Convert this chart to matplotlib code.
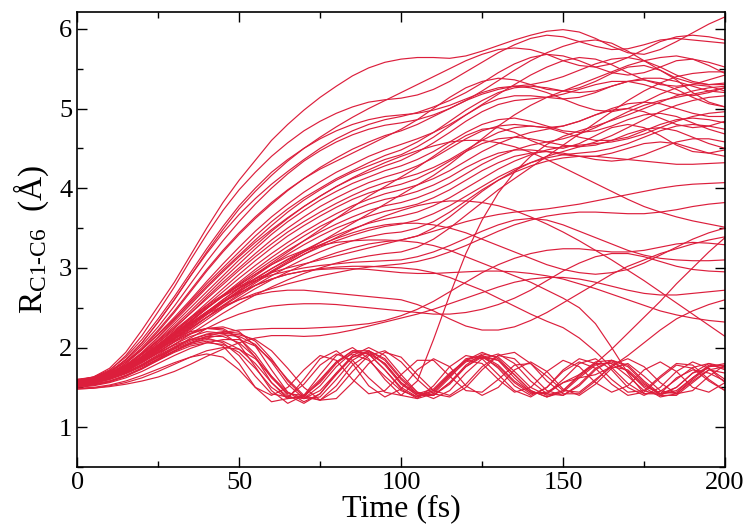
import matplotlib.pyplot as plt
from matplotlib.ticker import MultipleLocator

# time axis (fs), one sample every 5 fs
times = list(range(0, 201, 5))

# trajectories that break the bond (C1-C6 distance keeps growing)
rising = [
    [1.58, 1.63, 1.74, 1.94, 2.22, 2.52, 2.82, 3.16, 3.5, 3.82, 4.1,
     4.35, 4.6, 4.8, 4.98, 5.14, 5.28, 5.41, 5.51, 5.58, 5.62,
     5.64, 5.64, 5.63, 5.66, 5.72, 5.79, 5.86, 5.92, 5.97, 5.99, 5.96, 5.88, 5.78, 5.7, 5.68, 5.74, 5.84, 5.95, 6.06, 6.15],
    [1.57, 1.61, 1.71, 1.9, 2.15, 2.45, 2.76, 3.1, 3.42, 3.72, 3.98,
     4.2, 4.4, 4.57, 4.72, 4.84, 4.94, 5.02, 5.08, 5.11, 5.13,
     5.17, 5.24, 5.34, 5.46, 5.58, 5.7, 5.8, 5.88, 5.92, 5.9, 5.84, 5.78, 5.74, 5.75, 5.8, 5.86, 5.88, 5.86, 5.84, 5.82],
    [1.55, 1.6, 1.69, 1.85, 2.06, 2.32, 2.6, 2.9, 3.18, 3.44, 3.67,
     3.87, 4.05, 4.21, 4.36, 4.5, 4.62, 4.72, 4.8, 4.86, 4.9,
     4.95, 5.02, 5.1, 5.2, 5.32, 5.45, 5.56, 5.64, 5.68, 5.66, 5.6, 5.52, 5.45, 5.42, 5.45, 5.52, 5.6, 5.62, 5.58, 5.52],
    [1.59, 1.62, 1.7, 1.84, 2.03, 2.26, 2.52, 2.8, 3.08, 3.34, 3.58,
     3.8, 4.0, 4.18, 4.34, 4.47, 4.58, 4.67, 4.74, 4.79, 4.82,
     4.86, 4.92, 5.0, 5.1, 5.22, 5.35, 5.48, 5.6, 5.7, 5.78, 5.84, 5.86, 5.82, 5.72, 5.6, 5.48, 5.38, 5.32, 5.3, 5.32],
    [1.54, 1.58, 1.66, 1.8, 1.98, 2.2, 2.44, 2.7, 2.96, 3.2, 3.42,
     3.62, 3.8, 3.97, 4.12, 4.26, 4.38, 4.49, 4.58, 4.66, 4.72,
     4.8, 4.9, 5.0, 5.1, 5.18, 5.24, 5.28, 5.3, 5.34, 5.4, 5.48, 5.56, 5.62, 5.64, 5.6, 5.52, 5.42, 5.34, 5.3, 5.3],
    [1.56, 1.6, 1.67, 1.8, 1.97, 2.17, 2.38, 2.6, 2.83, 3.05, 3.26,
     3.46, 3.64, 3.8, 3.95, 4.08, 4.2, 4.3, 4.4, 4.48, 4.55,
     4.62, 4.7, 4.8, 4.92, 5.05, 5.18, 5.3, 5.42, 5.52, 5.6, 5.64, 5.62, 5.55, 5.45, 5.36, 5.3, 5.28, 5.3, 5.36, 5.42],
    [1.52, 1.56, 1.63, 1.76, 1.93, 2.13, 2.35, 2.58, 2.8, 3.0, 3.2,
     3.4, 3.58, 3.74, 3.88, 4.0, 4.12, 4.22, 4.32, 4.41, 4.48,
     4.58, 4.7, 4.84, 4.98, 5.1, 5.2, 5.26, 5.28, 5.26, 5.22, 5.2, 5.22, 5.28, 5.34, 5.38, 5.38, 5.34, 5.28, 5.22, 5.2],
    [1.6, 1.63, 1.7, 1.82, 1.98, 2.16, 2.36, 2.56, 2.77, 2.97, 3.16,
     3.35, 3.53, 3.7, 3.85, 3.98, 4.1, 4.2, 4.28, 4.36, 4.42,
     4.52, 4.64, 4.78, 4.92, 5.04, 5.12, 5.16, 5.16, 5.14, 5.12, 5.14, 5.2, 5.28, 5.34, 5.36, 5.32, 5.24, 5.14, 5.06, 5.02],
    [1.55, 1.58, 1.64, 1.76, 1.92, 2.1, 2.3, 2.5, 2.7, 2.9, 3.1,
     3.28, 3.46, 3.62, 3.77, 3.9, 4.02, 4.12, 4.2, 4.28, 4.35,
     4.45, 4.57, 4.7, 4.84, 4.96, 5.05, 5.1, 5.12, 5.14, 5.18, 5.24, 5.3, 5.34, 5.34, 5.3, 5.24, 5.18, 5.16, 5.2, 5.26],
    [1.57, 1.6, 1.66, 1.77, 1.92, 2.09, 2.27, 2.46, 2.66, 2.86, 3.05,
     3.24, 3.42, 3.58, 3.72, 3.85, 3.96, 4.06, 4.14, 4.22, 4.28,
     4.36, 4.46, 4.58, 4.7, 4.8, 4.86, 4.88, 4.84, 4.78, 4.72, 4.7, 4.72, 4.78, 4.86, 4.92, 4.94, 4.9, 4.82, 4.74, 4.68],
    [1.53, 1.57, 1.63, 1.74, 1.89, 2.06, 2.24, 2.43, 2.63, 2.82, 3.0,
     3.18, 3.35, 3.5, 3.64, 3.77, 3.88, 3.98, 4.07, 4.14, 4.2,
     4.28, 4.38, 4.5, 4.62, 4.72, 4.78, 4.8, 4.78, 4.76, 4.78, 4.84, 4.92, 4.98, 5.0, 4.96, 4.88, 4.8, 4.76, 4.78, 4.84],
    [1.58, 1.61, 1.67, 1.78, 1.92, 2.08, 2.25, 2.43, 2.61, 2.79, 2.97,
     3.14, 3.3, 3.45, 3.58, 3.7, 3.81, 3.91, 4.0, 4.07, 4.12,
     4.18, 4.26, 4.36, 4.48, 4.6, 4.7, 4.76, 4.78, 4.76, 4.7, 4.64, 4.6, 4.6, 4.64, 4.72, 4.8, 4.86, 4.88, 4.86, 4.82],
    [1.51, 1.55, 1.62, 1.73, 1.87, 2.03, 2.2, 2.38, 2.56, 2.74, 2.92,
     3.09, 3.25, 3.4, 3.53, 3.65, 3.76, 3.86, 3.94, 4.0, 4.05,
     4.12, 4.22, 4.34, 4.46, 4.56, 4.62, 4.64, 4.62, 4.58, 4.54, 4.52, 4.54, 4.6, 4.68, 4.74, 4.76, 4.72, 4.64, 4.56, 4.5],
    [1.56, 1.59, 1.65, 1.75, 1.88, 2.03, 2.19, 2.36, 2.53, 2.7, 2.87,
     3.03, 3.18, 3.32, 3.45, 3.57, 3.68, 3.78, 3.86, 3.93, 3.98,
     4.04, 4.12, 4.22, 4.34, 4.46, 4.56, 4.64, 4.7, 4.74, 4.78, 4.84, 4.92, 5.0, 5.06, 5.08, 5.06, 5.0, 4.94, 4.9, 4.9],
    [1.54, 1.58, 1.64, 1.74, 1.86, 2.0, 2.16, 2.32, 2.49, 2.66, 2.82,
     2.98, 3.13, 3.27, 3.4, 3.52, 3.62, 3.72, 3.8, 3.86, 3.9,
     3.96, 4.04, 4.14, 4.26, 4.36, 4.44, 4.48, 4.48, 4.46, 4.42, 4.4, 4.4, 4.44, 4.5, 4.56, 4.58, 4.56, 4.5, 4.44, 4.4],
    [1.6, 1.62, 1.67, 1.76, 1.88, 2.02, 2.17, 2.33, 2.49, 2.65, 2.8,
     2.95, 3.09, 3.22, 3.34, 3.45, 3.55, 3.64, 3.72, 3.78, 3.82,
     3.88, 3.96, 4.06, 4.18, 4.3, 4.4, 4.48, 4.54, 4.58, 4.62, 4.68, 4.76, 4.86, 4.96, 5.04, 5.1, 5.14, 5.18, 5.22, 5.26],
    [1.55, 1.58, 1.63, 1.72, 1.84, 1.98, 2.13, 2.28, 2.44, 2.6, 2.75,
     2.9, 3.04, 3.17, 3.29, 3.4, 3.5, 3.58, 3.65, 3.71, 3.75,
     3.8, 3.88, 3.98, 4.1, 4.22, 4.32, 4.4, 4.44, 4.46, 4.44, 4.4, 4.36, 4.34, 4.36, 4.42, 4.5, 4.58, 4.62, 4.62, 4.58],
    [1.57, 1.6, 1.65, 1.74, 1.85, 1.98, 2.12, 2.27, 2.42, 2.57, 2.72,
     2.86, 2.99, 3.11, 3.22, 3.32, 3.41, 3.49, 3.56, 3.61, 3.65,
     3.7, 3.78, 3.88, 4.0, 4.12, 4.24, 4.34, 4.42, 4.48, 4.52, 4.54, 4.56, 4.58, 4.62, 4.68, 4.76, 4.84, 4.9, 4.94, 4.96],
    [1.52, 1.56, 1.61, 1.7, 1.81, 1.94, 2.08, 2.23, 2.38, 2.53, 2.67,
     2.81, 2.94, 3.06, 3.17, 3.26, 3.34, 3.41, 3.47, 3.52, 3.55,
     3.6, 3.68, 3.78, 3.9, 4.02, 4.14, 4.24, 4.32, 4.38, 4.42, 4.44, 4.46, 4.5, 4.56, 4.64, 4.72, 4.78, 4.8, 4.78, 4.74],
    [1.58, 1.61, 1.66, 1.74, 1.85, 1.97, 2.1, 2.24, 2.38, 2.52, 2.65,
     2.78, 2.9, 3.01, 3.11, 3.2, 3.28, 3.34, 3.39, 3.43, 3.45,
     3.5, 3.58, 3.7, 3.84, 3.98, 4.1, 4.2, 4.28, 4.34, 4.38, 4.4, 4.4, 4.38, 4.36, 4.34, 4.32, 4.3, 4.3, 4.31, 4.32],
    [1.55, 1.58, 1.63, 1.71, 1.82, 1.94, 2.07, 2.21, 2.35, 2.49, 2.62,
     2.74, 2.85, 2.95, 3.04, 3.12, 3.19, 3.25, 3.3, 3.33, 3.35,
     3.4, 3.5, 3.64, 3.8, 3.96, 4.1, 4.22, 4.32, 4.4, 4.46, 4.52, 4.58, 4.66, 4.76, 4.86, 4.96, 5.04, 5.1, 5.14, 5.16],
    [1.53, 1.56, 1.61, 1.69, 1.79, 1.91, 2.04, 2.17, 2.3, 2.43, 2.55,
     2.66, 2.76, 2.85, 2.93, 3.0, 3.06, 3.11, 3.15, 3.18, 3.2,
     3.26, 3.36, 3.5, 3.66, 3.82, 3.98, 4.12, 4.26, 4.4, 4.54, 4.68, 4.82, 4.96, 5.1, 5.22, 5.32, 5.4, 5.44, 5.46, 5.46],
    [1.54, 1.57, 1.63, 1.73, 1.86, 2.01, 2.17, 2.33, 2.49, 2.64, 2.78,
     2.92, 3.06, 3.2, 3.34, 3.48, 3.62, 3.76, 3.9, 4.02, 4.14,
     4.26, 4.4, 4.54, 4.66, 4.74, 4.76, 4.7, 4.6, 4.52, 4.5, 4.56, 4.66, 4.76, 4.8, 4.76, 4.66, 4.54, 4.46, 4.44, 4.48],
    [1.56, 1.6, 1.68, 1.82, 2.0, 2.22, 2.46, 2.72, 2.98, 3.22, 3.44,
     3.64, 3.82, 3.98, 4.12, 4.24, 4.34, 4.44, 4.54, 4.64, 4.74,
     4.86, 5.0, 5.14, 5.26, 5.34, 5.38, 5.36, 5.3, 5.24, 5.22, 5.26, 5.34, 5.44, 5.52, 5.54, 5.48, 5.36, 5.2, 5.08, 5.02],
    [1.53, 1.56, 1.61, 1.7, 1.82, 1.96, 2.11, 2.26, 2.41, 2.56, 2.7,
     2.83, 2.96, 3.08, 3.2, 3.32, 3.44, 3.56, 3.68, 3.8, 3.92,
     4.04, 4.16, 4.3, 4.46, 4.62, 4.78, 4.92, 5.04, 5.14, 5.22, 5.3, 5.38, 5.46, 5.54, 5.6, 5.64, 5.66, 5.62, 5.54, 5.44],
    [1.55, 1.59, 1.66, 1.78, 1.94, 2.13, 2.33, 2.54, 2.75, 2.95, 3.14,
     3.32, 3.48, 3.63, 3.77, 3.9, 4.02, 4.13, 4.23, 4.32, 4.4,
     4.47, 4.53, 4.58, 4.6, 4.6, 4.57, 4.52, 4.45, 4.36, 4.26, 4.16, 4.06, 3.96, 3.86, 3.77, 3.7, 3.64, 3.59, 3.55, 3.51],
    [1.59, 1.63, 1.72, 1.88, 2.1, 2.36, 2.64, 2.94, 3.24, 3.52, 3.78,
     4.0, 4.2, 4.36, 4.5, 4.62, 4.72, 4.8, 4.86, 4.9, 4.92,
     4.94, 4.98, 5.04, 5.12, 5.2, 5.26, 5.28, 5.26, 5.2, 5.12, 5.04, 4.98, 4.96, 5.0, 5.08, 5.18, 5.26, 5.3, 5.28, 5.22],
    [1.57, 1.61, 1.69, 1.85, 2.06, 2.32, 2.6, 2.9, 3.2, 3.48, 3.74,
     3.96, 4.16, 4.34, 4.5, 4.64, 4.77, 4.89, 5.0, 5.1, 5.2,
     5.3, 5.4, 5.5, 5.6, 5.68, 5.74, 5.76, 5.74, 5.68, 5.6, 5.54, 5.52, 5.56, 5.64, 5.74, 5.84, 5.9, 5.92, 5.9, 5.86],
]

# trajectories that stay in the 2-4 A range
middle = [
    [1.52, 1.54, 1.58, 1.65, 1.74, 1.85, 1.96, 2.06, 2.14, 2.19, 2.22,
     2.23, 2.24, 2.24, 2.24, 2.25, 2.26, 2.28, 2.3, 2.34, 2.4,
     2.48, 2.58, 2.7, 2.82, 2.94, 3.04, 3.12, 3.18, 3.22, 3.24, 3.24, 3.22, 3.2, 3.2, 3.22, 3.26, 3.3, 3.32, 3.31, 3.29],
    [1.56, 1.59, 1.65, 1.75, 1.88, 2.02, 2.16, 2.3, 2.42, 2.52, 2.6,
     2.66, 2.7, 2.72, 2.72, 2.7, 2.68, 2.66, 2.64, 2.62, 2.6,
     2.54, 2.46, 2.36, 2.27, 2.22, 2.22, 2.26, 2.34, 2.44, 2.56, 2.68, 2.8, 2.92, 3.02, 3.1, 3.18, 3.24, 3.3, 3.35, 3.39],
    [1.54, 1.57, 1.63, 1.73, 1.86, 2.0, 2.15, 2.3, 2.44, 2.57, 2.68,
     2.78, 2.86, 2.92, 2.96, 2.98, 2.99, 2.99, 2.98, 2.96, 2.94,
     2.93, 2.93, 2.94, 2.95, 2.96, 2.96, 2.95, 2.93, 2.9, 2.86, 2.8, 2.74, 2.67, 2.6, 2.53, 2.46, 2.41, 2.37, 2.34, 2.32],
    [1.57, 1.6, 1.66, 1.76, 1.89, 2.04, 2.2, 2.36, 2.51, 2.64, 2.75,
     2.84, 2.91, 2.96, 3.0, 3.03, 3.05, 3.07, 3.08, 3.09, 3.1,
     3.14, 3.2, 3.28, 3.37, 3.46, 3.54, 3.6, 3.62, 3.6, 3.54, 3.46, 3.38, 3.3, 3.22, 3.16, 3.12, 3.1, 3.09, 3.09, 3.1],
    [1.55, 1.58, 1.64, 1.74, 1.87, 2.02, 2.18, 2.34, 2.5, 2.65, 2.79,
     2.92, 3.04, 3.14, 3.22, 3.28, 3.32, 3.34, 3.35, 3.35, 3.34,
     3.32, 3.28, 3.22, 3.14, 3.06, 2.98, 2.9, 2.82, 2.72, 2.62, 2.5, 2.3, 2.0, 1.68, 1.42, 1.42, 1.62, 1.72, 1.68, 1.58],
    [1.58, 1.61, 1.66, 1.75, 1.87, 2.01, 2.16, 2.31, 2.45, 2.58, 2.69,
     2.78, 2.86, 2.92, 2.96, 2.99, 3.01, 3.02, 3.02, 3.01, 3.0,
     2.98, 2.94, 2.88, 2.8, 2.72, 2.62, 2.52, 2.42, 2.33, 2.25, 2.12, 1.95, 1.75, 1.55, 1.42, 1.45, 1.6, 1.75, 1.8, 1.72],
    [1.53, 1.56, 1.62, 1.71, 1.83, 1.97, 2.11, 2.25, 2.38, 2.5, 2.6,
     2.68, 2.74, 2.8, 2.85, 2.9, 2.94, 2.98, 3.01, 3.03, 3.05,
     3.08, 3.13, 3.2, 3.28, 3.37, 3.46, 3.54, 3.6, 3.65, 3.68, 3.7, 3.7, 3.69, 3.68, 3.68, 3.7, 3.73, 3.77, 3.8, 3.82],
    [1.59, 1.62, 1.68, 1.78, 1.91, 2.06, 2.22, 2.38, 2.53, 2.66, 2.77,
     2.86, 2.94, 3.0, 3.05, 3.1, 3.15, 3.2, 3.25, 3.3, 3.35,
     3.4, 3.46, 3.52, 3.58, 3.63, 3.67, 3.7, 3.72, 3.74, 3.77, 3.8, 3.84, 3.88, 3.92, 3.96, 4.0, 4.03, 4.05, 4.06, 4.07],
    [1.48, 1.49, 1.51, 1.54, 1.58, 1.63, 1.7, 1.79, 1.89, 1.98, 2.06,
     2.12, 2.15, 2.15, 2.14, 2.15, 2.18, 2.22, 2.27, 2.32, 2.37,
     2.42, 2.48, 2.55, 2.62, 2.69, 2.76, 2.82, 2.86, 2.88, 2.88, 2.86, 2.82, 2.77, 2.72, 2.68, 2.66, 2.66, 2.68, 2.7, 2.72],
    [1.56, 1.59, 1.65, 1.74, 1.86, 2.0, 2.15, 2.3, 2.45, 2.6, 2.74,
     2.87, 2.99, 3.1, 3.2, 3.29, 3.37, 3.44, 3.5, 3.54, 3.56,
     3.56, 3.54, 3.5, 3.44, 3.36, 3.28, 3.2, 3.12, 3.04, 2.98, 2.94, 2.92, 2.94, 2.98, 3.06, 3.16, 3.26, 3.36, 3.44, 3.5],
    [1.55, 1.58, 1.64, 1.73, 1.85, 1.99, 2.14, 2.29, 2.44, 2.58, 2.71,
     2.83, 2.95, 3.06, 3.17, 3.28, 3.38, 3.48, 3.57, 3.65, 3.72,
     3.78, 3.82, 3.84, 3.84, 3.82, 3.78, 3.72, 3.64, 3.55, 3.45, 3.34, 3.22, 3.1, 2.97, 2.84, 2.7, 2.56, 2.42, 2.28, 2.14],
    [1.51, 1.53, 1.57, 1.64, 1.74, 1.86, 1.99, 2.12, 2.24, 2.34, 2.42,
     2.48, 2.52, 2.54, 2.55, 2.55, 2.54, 2.52, 2.5, 2.48, 2.46,
     2.44, 2.42, 2.42, 2.44, 2.48, 2.54, 2.62, 2.72, 2.84, 2.96, 3.06, 3.14, 3.18, 3.18, 3.14, 3.08, 3.02, 2.98, 2.96, 2.95],
]

# trajectories that turn back and oscillate around the closed-ring distance
returning = [
    [1.53, 1.55, 1.6, 1.67, 1.76, 1.86, 1.96, 2.04, 2.08, 2.02, 1.8,
     1.5, 1.32, 1.36, 1.6, 1.86, 1.96, 1.8, 1.52, 1.38, 1.48,
     1.72, 1.86, 1.76, 1.52, 1.4, 1.5, 1.72, 1.82, 1.7, 1.48, 1.4, 1.54, 1.74, 1.8, 1.64, 1.46, 1.42, 1.58, 1.72, 1.68],
    [1.56, 1.58, 1.63, 1.71, 1.81, 1.93, 2.04, 2.14, 2.2, 2.18, 2.04,
     1.76, 1.46, 1.3, 1.4, 1.66, 1.9, 2.0, 1.86, 1.6, 1.4,
     1.36, 1.52, 1.76, 1.9, 1.86, 1.66, 1.46, 1.38, 1.5, 1.7, 1.82, 1.74, 1.54, 1.4, 1.44, 1.62, 1.78, 1.74, 1.58, 1.46],
    [1.49, 1.5, 1.53, 1.58, 1.65, 1.73, 1.81, 1.88, 1.92, 1.88, 1.72,
     1.5, 1.4, 1.5, 1.72, 1.9, 1.84, 1.6, 1.42, 1.46, 1.66,
     1.84, 1.84, 1.64, 1.46, 1.44, 1.6, 1.78, 1.8, 1.64, 1.46, 1.44, 1.6, 1.76, 1.72, 1.54, 1.42, 1.5, 1.68, 1.74, 1.6],
    [1.58, 1.61, 1.66, 1.74, 1.85, 1.97, 2.09, 2.18, 2.24, 2.24, 2.12,
     1.88, 1.56, 1.36, 1.38, 1.58, 1.82, 1.96, 1.92, 1.72, 1.48,
     1.36, 1.42, 1.62, 1.84, 1.94, 1.86, 1.66, 1.46, 1.38, 1.44, 1.62, 1.78, 1.82, 1.7, 1.52, 1.42, 1.46, 1.62, 1.76, 1.78],
    [1.54, 1.56, 1.61, 1.68, 1.78, 1.89, 2.0, 2.1, 2.17, 2.2, 2.18,
     2.08, 1.86, 1.58, 1.38, 1.34, 1.52, 1.78, 1.92, 1.8, 1.56,
     1.42, 1.48, 1.68, 1.84, 1.8, 1.6, 1.44, 1.5, 1.7, 1.84, 1.76, 1.56, 1.44, 1.52, 1.72, 1.82, 1.7, 1.5, 1.44, 1.56],
    [1.55, 1.58, 1.63, 1.71, 1.82, 1.95, 2.07, 2.17, 2.24, 2.26, 2.2,
     2.02, 1.72, 1.44, 1.32, 1.42, 1.66, 1.88, 1.96, 1.84, 1.6,
     1.42, 1.4, 1.56, 1.78, 1.92, 1.88, 1.7, 1.5, 1.4, 1.46, 1.64, 1.8, 1.8, 1.64, 1.46, 1.4, 1.5, 1.68, 1.8, 1.76],
    [1.57, 1.59, 1.64, 1.72, 1.82, 1.93, 2.03, 2.1, 2.12, 2.06, 1.9,
     1.64, 1.42, 1.38, 1.54, 1.78, 1.92, 1.84, 1.62, 1.44, 1.4,
     1.58, 2.1, 2.66, 3.18, 3.6, 3.94, 4.2, 4.4, 4.55, 4.65, 4.72, 4.78, 4.85, 4.92, 5.0, 5.08, 5.16, 5.22, 5.26, 5.28],
    [1.52, 1.54, 1.58, 1.65, 1.74, 1.84, 1.94, 2.02, 2.06, 2.04, 1.94,
     1.74, 1.5, 1.36, 1.4, 1.6, 1.82, 1.92, 1.84, 1.64, 1.46,
     1.38, 1.46, 1.66, 1.84, 1.9, 1.78, 1.58, 1.44, 1.42, 1.56, 1.66, 1.8, 1.98, 2.18, 2.38, 2.58, 2.8, 3.0, 3.2, 3.38],
    [1.56, 1.58, 1.62, 1.69, 1.78, 1.88, 1.98, 2.06, 2.1, 2.08, 1.98,
     1.8, 1.56, 1.38, 1.36, 1.52, 1.76, 1.94, 1.92, 1.72, 1.5,
     1.38, 1.44, 1.64, 1.82, 1.88, 1.76, 1.56, 1.42, 1.44, 1.56, 1.62, 1.66, 1.76, 1.9, 2.06, 2.22, 2.36, 2.46, 2.54, 2.6],
    [1.48, 1.49, 1.52, 1.56, 1.62, 1.7, 1.79, 1.88, 1.96, 2.0, 1.98,
     1.86, 1.64, 1.44, 1.36, 1.46, 1.68, 1.88, 1.94, 1.8, 1.56,
     1.4, 1.4, 1.56, 1.76, 1.88, 1.84, 1.66, 1.46, 1.38, 1.46, 1.66, 1.82, 1.84, 1.7, 1.5, 1.38, 1.42, 1.6, 1.76, 1.8],
    [1.59, 1.62, 1.68, 1.77, 1.89, 2.01, 2.12, 2.2, 2.24, 2.22, 2.12,
     1.92, 1.64, 1.4, 1.3, 1.42, 1.68, 1.9, 2.0, 1.9, 1.66,
     1.44, 1.36, 1.46, 1.68, 1.86, 1.92, 1.8, 1.58, 1.42, 1.4, 1.54, 1.74, 1.84, 1.76, 1.56, 1.4, 1.4, 1.56, 1.72, 1.76],
    [1.53, 1.55, 1.6, 1.68, 1.78, 1.9, 2.01, 2.1, 2.16, 2.18, 2.16,
     2.1, 1.96, 1.74, 1.5, 1.34, 1.36, 1.56, 1.8, 1.94, 1.88,
     1.66, 1.46, 1.4, 1.54, 1.76, 1.9, 1.86, 1.66, 1.46, 1.4, 1.52, 1.72, 1.84, 1.78, 1.58, 1.42, 1.44, 1.62, 1.78, 1.74],
    [1.51, 1.53, 1.57, 1.64, 1.73, 1.84, 1.95, 2.05, 2.12, 2.16, 2.14,
     2.04, 1.82, 1.54, 1.36, 1.38, 1.6, 1.84, 1.96, 1.86, 1.62,
     1.44, 1.4, 1.54, 1.76, 1.9, 1.84, 1.62, 1.44, 1.42, 1.6, 1.8, 1.86, 1.72, 1.5, 1.4, 1.5, 1.7, 1.82, 1.74, 1.56],
    [1.55, 1.57, 1.61, 1.68, 1.77, 1.88, 1.99, 2.08, 2.14, 2.14, 2.06,
     1.88, 1.62, 1.42, 1.4, 1.56, 1.8, 1.96, 1.96, 1.78, 1.54,
     1.4, 1.46, 1.66, 1.86, 1.9, 1.74, 1.52, 1.4, 1.5, 1.72, 1.86, 1.8, 1.6, 1.44, 1.46, 1.64, 1.8, 1.78, 1.6, 1.46],
    [1.5, 1.52, 1.56, 1.62, 1.7, 1.8, 1.9, 1.99, 2.06, 2.1, 2.1,
     2.02, 1.84, 1.6, 1.4, 1.34, 1.46, 1.7, 1.9, 1.96, 1.82,
     1.6, 1.42, 1.38, 1.5, 1.72, 1.9, 1.94, 1.8, 1.58, 1.42, 1.42, 1.58, 1.78, 1.86, 1.76, 1.56, 1.42, 1.46, 1.64, 1.78],
]

plt.rcParams['font.family'] = 'Liberation Serif'
plt.rcParams['mathtext.fontset'] = 'custom'
plt.rcParams['mathtext.rm'] = 'Liberation Serif'
plt.rcParams['mathtext.it'] = 'Liberation Serif:italic'

fig = plt.figure(figsize=(7.49, 5.26), dpi=100)
ax = fig.add_axes([0.103, 0.112, 0.865, 0.865])

for group in (rising, middle, returning):
    for r in group:
        ax.plot(times, r, color="#dc1e3c", lw=0.85)

ax.set_xlim(0, 200)
ax.set_ylim(0.5, 6.21)
ax.xaxis.set_major_locator(MultipleLocator(50))
ax.xaxis.set_minor_locator(MultipleLocator(25))
ax.yaxis.set_major_locator(MultipleLocator(1))
ax.yaxis.set_minor_locator(MultipleLocator(0.5))
ax.tick_params(which='both', direction='in', top=True, right=True, labelsize=19, width=1)
ax.tick_params(which='major', length=7)
ax.tick_params(which='minor', length=4)
for s in ax.spines.values():
    s.set_linewidth(1.2)

ax.set_xlabel("Time (fs)", fontsize=23, labelpad=0)
ax.set_ylabel(r"R$_{\mathrm{C1‐C6}}$  (Å)", fontsize=24, labelpad=6)

plt.savefig("out.png", dpi=100)
